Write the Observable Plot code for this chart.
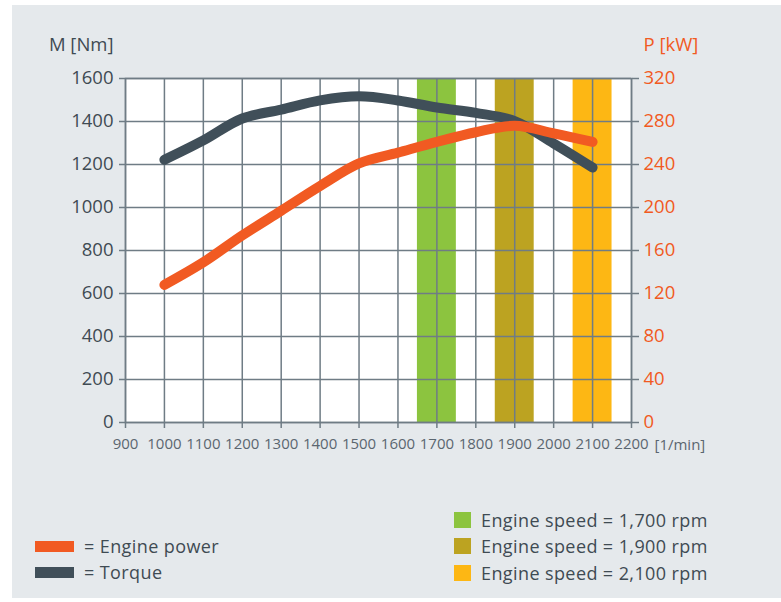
<!DOCTYPE html>
<html><head><meta charset="utf-8">
<script src="https://cdn.jsdelivr.net/npm/d3@7"></script>
<script src="https://cdn.jsdelivr.net/npm/@observablehq/plot@0.6"></script>
<style>
body{margin:0;background:#fff;font-family:"Open Sans",Lato,sans-serif;}
#wrap{position:absolute;left:12px;top:5px;width:769px;height:593px;background:#e5e9ec;}
#chart{position:absolute;left:0;top:0;}
.leg{position:absolute;display:flex;align-items:center;font-size:18px;letter-spacing:0.4px;color:#3f4b53;white-space:nowrap;}
.sw{display:inline-block;margin-right:10px;}
</style></head>
<body>
<div id="wrap"><div id="chart"></div><div id="legend"></div></div>
<script>
const rpm = [1000, 1100, 1200, 1300, 1400, 1500, 1600, 1700, 1800, 1900, 2000, 2100];
const torqueNm = [1222, 1312, 1414, 1455, 1498, 1517, 1498, 1465, 1440, 1402, 1298, 1186];
const powerKW = [128, 149, 174, 197, 220, 241, 251, 261, 270, 276, 269, 261];
const xTicks = [900, 1000, 1100, 1200, 1300, 1400, 1500, 1600, 1700, 1800, 1900, 2000, 2100, 2200];
const yTicksNm = [0, 200, 400, 600, 800, 1000, 1200, 1400, 1600];
const kWPerNmTick = 0.2; // 1600 Nm ↔ 320 kW
const bandSpeeds = [1700, 1900, 2100];
const bandWidth = 100;
const bandColors = ["#8cc43f", "#bca321", "#fdb714"];
const bandLabels = ["Engine speed = 1,700 rpm", "Engine speed = 1,900 rpm", "Engine speed = 2,100 rpm"];
const seriesLabels = ["= Engine power", "= Torque"];
const axisTitleLeft = "M [Nm]";
const axisTitleRight = "P [kW]";
const xUnit = "[1/min]";

const orange = "#f15a22", dark = "#404f59", grid = "#6f7c85", txt = "#3f4b53", xtxt = "#5b6670";
const FONT = "'Open Sans', Lato, sans-serif";

const data = rpm.map((r, i) => ({rpm: r, torque: torqueNm[i], power: powerKW[i]}));
const bands = bandSpeeds.map((s, i) => ({x1: s - bandWidth / 2, x2: s + bandWidth / 2, color: bandColors[i]}));

const chart = Plot.plot({
  width: 769, height: 470,
  marginLeft: 113, marginRight: 150, marginTop: 73, marginBottom: 53,
  style: {background: "transparent", fontFamily: FONT, overflow: "visible"},
  x: {domain: [xTicks[0], xTicks[xTicks.length - 1]]},
  y: {domain: [yTicksNm[0], yTicksNm[yTicksNm.length - 1]]},
  marks: [
    Plot.frame({fill: "white", stroke: null}),
    Plot.rect(bands, {x1: "x1", x2: "x2", fill: "color"}),
    Plot.gridX(xTicks, {stroke: grid, strokeOpacity: 1, strokeWidth: 1.5}),
    Plot.gridY(yTicksNm, {stroke: grid, strokeOpacity: 1, strokeWidth: 1.5}),
    Plot.frame({stroke: grid, strokeWidth: 1.5}),
    Plot.axisY(yTicksNm, {anchor: "left", tickSize: 6, tickPadding: 6, fontSize: 18.5, stroke: grid, fill: txt, strokeWidth: 1.5, label: null, tickFormat: d => String(d)}),
    Plot.axisY(yTicksNm, {anchor: "right", tickSize: 7, tickPadding: 5, fontSize: 18.5, stroke: grid, fill: orange, strokeWidth: 1.5, label: null, tickFormat: d => String(Math.round(d * kWPerNmTick))}),
    Plot.axisX(xTicks, {anchor: "bottom", tickSize: 6, tickPadding: 10, fontSize: 15, stroke: grid, fill: xtxt, strokeWidth: 1.5, label: null, tickFormat: d => String(d)}),
    Plot.line(data, {x: "rpm", y: "torque", stroke: dark, strokeWidth: 10, strokeLinecap: "round", strokeLinejoin: "round", curve: "catmull-rom"}),
    Plot.line(data, {x: "rpm", y: d => d.power / kWPerNmTick, stroke: orange, strokeWidth: 10, strokeLinecap: "round", strokeLinejoin: "round", curve: "catmull-rom"}),
    Plot.text([axisTitleLeft], {frameAnchor: "top-left", textAnchor: "end", dx: -12, dy: -33, fontSize: 18.5, fill: txt, lineAnchor: "middle"}),
    Plot.text([axisTitleRight], {frameAnchor: "top-right", textAnchor: "start", dx: 12, dy: -33, fontSize: 18.5, fill: orange, lineAnchor: "middle"}),
    Plot.text([xUnit], {x: () => xTicks[xTicks.length - 1], y: () => yTicksNm[0], textAnchor: "start", dx: 23, dy: 23, fontSize: 15, fill: xtxt})
  ]
});
document.getElementById("chart").appendChild(chart);

const legend = document.getElementById("legend");
const seriesColors = [orange, dark];
const seriesTop = [546, 572];
seriesLabels.forEach((l, i) => {
  const d = document.createElement("div");
  d.className = "leg";
  d.style.left = "23px";
  d.style.top = (seriesTop[i] - 5 - 12) + "px";
  d.style.height = "24px";
  d.innerHTML = `<span class="sw" style="width:39px;height:11px;background:${seriesColors[i]}"></span>${l}`;
  legend.appendChild(d);
});
const bandTop = [520, 546, 573];
bandLabels.forEach((l, i) => {
  const d = document.createElement("div");
  d.className = "leg";
  d.style.left = "442px";
  d.style.top = (bandTop[i] - 5 - 12) + "px";
  d.style.height = "24px";
  d.innerHTML = `<span class="sw" style="width:17px;height:16px;background:${bandColors[i]}"></span>${l}`;
  legend.appendChild(d);
});
</script>
</body></html>
